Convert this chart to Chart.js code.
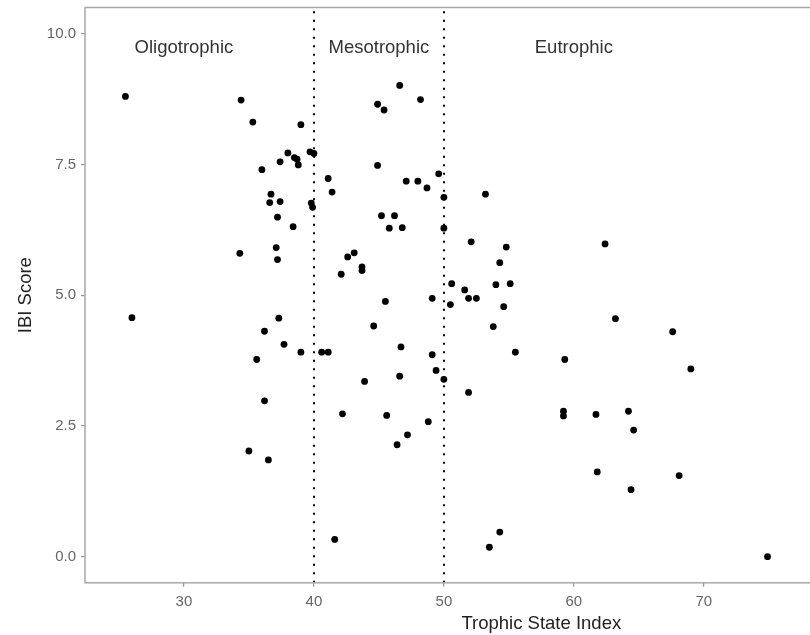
<!DOCTYPE html>
<html>
<head>
<meta charset="utf-8">
<script src="https://cdn.jsdelivr.net/npm/chart.js@4"></script>
<style>
  body { margin: 0; background: #fff; }
  .wrap { width: 810px; height: 635px; overflow: hidden; position: relative; }
  canvas { display: block; }
</style>
</head>
<body>
<div class="wrap">
  <canvas id="myChart" width="1001" height="635"></canvas>
</div>
<script>
// data
const tsi = [25.5, 26.0, 34.4, 35.3, 39.0, 38.0, 37.4, 36.0, 38.5, 38.7, 38.8, 39.7, 40.0,
  36.7, 36.6, 37.4, 39.8, 39.9, 37.2, 38.4, 34.3, 37.1, 37.2, 37.3, 36.2, 37.7, 39.0,
  35.6, 36.2, 35.0, 36.5, 40.6, 41.1, 41.1, 41.4, 44.9, 45.4, 46.6, 48.2, 44.9, 47.1,
  48.0, 48.7, 49.6, 50.0, 45.2, 46.2, 45.8, 46.8, 50.0, 53.2, 42.6, 43.1, 43.7, 43.7,
  42.1, 52.1, 54.8, 54.3, 50.6, 51.6, 54.0, 55.1, 51.9, 52.5, 50.5, 54.6, 45.5, 49.1,
  44.6, 53.8, 46.7, 49.1, 55.5, 43.9, 46.6, 49.4, 50.0, 51.9, 42.2, 45.6, 48.8, 47.2,
  46.4, 41.6, 54.3, 53.5, 63.2, 67.6, 59.3, 69.0, 59.2, 59.2, 61.7, 64.2, 64.6, 61.8,
  68.1, 64.4, 74.9, 62.4];
const ibi = [8.80, 4.57, 8.73, 8.31, 8.26, 7.72, 7.55, 7.40, 7.63, 7.60, 7.49, 7.74, 7.71,
  6.93, 6.77, 6.79, 6.76, 6.68, 6.49, 6.31, 5.80, 5.91, 5.68, 4.56, 4.31, 4.06, 3.91,
  3.77, 2.98, 2.02, 1.85, 3.91, 3.91, 7.23, 6.97, 8.65, 8.54, 9.01, 8.74, 7.48, 7.18,
  7.18, 7.05, 7.32, 6.87, 6.52, 6.52, 6.28, 6.29, 6.28, 6.93, 5.73, 5.81, 5.54, 5.47,
  5.40, 6.02, 5.92, 5.62, 5.22, 5.10, 5.20, 5.22, 4.94, 4.94, 4.82, 4.78, 4.88, 4.94,
  4.41, 4.40, 4.01, 3.86, 3.91, 3.35, 3.45, 3.56, 3.39, 3.14, 2.73, 2.70, 2.58, 2.33,
  2.14, 0.33, 0.47, 0.18, 4.55, 4.30, 3.77, 3.59, 2.78, 2.69, 2.72, 2.78, 2.42, 1.62,
  1.55, 1.28, 0.00, 5.98];

const xTicks = [30, 40, 50, 60, 70];
const yTicks = [0, 2.5, 5, 7.5, 10];
const boundaries = [40, 50];
const zoneNames = ['Oligotrophic', 'Mesotrophic', 'Eutrophic'];
const zoneX = [30, 45, 60];
const zoneY = 9.73;

const FONT = "'Liberation Sans', Arial, sans-serif";

// frame, dotted boundaries and zone labels
const decor = {
  id: 'decor',
  beforeDatasetsDraw(chart) {
    const { ctx, chartArea: a, scales: { x, y } } = chart;
    ctx.save();
    ctx.strokeStyle = '#000';
    ctx.lineWidth = 2;
    ctx.setLineDash([2, 6.5]);
    boundaries.forEach(b => {
      const px = Math.round(x.getPixelForValue(b));
      ctx.beginPath();
      ctx.moveTo(px, a.bottom);
      ctx.lineTo(px, a.top);
      ctx.stroke();
    });
    ctx.setLineDash([]);
    ctx.fillStyle = '#333';
    ctx.font = '18.5px ' + FONT;
    ctx.textAlign = 'center';
    ctx.textBaseline = 'middle';
    zoneNames.forEach((n, i) => {
      ctx.fillText(n, x.getPixelForValue(zoneX[i]), y.getPixelForValue(zoneY));
    });
    ctx.strokeStyle = '#a8a8a8';
    ctx.lineWidth = 1.5;
    ctx.strokeRect(a.left, a.top, a.right - a.left, a.bottom - a.top);
    ctx.restore();
  }
};

const noPad = s => { s.paddingTop = 0; s.paddingBottom = 0; s.paddingLeft = 0; s.paddingRight = 0; };

const ctx = document.getElementById('myChart');

new Chart(ctx, {
  type: 'scatter',
  data: {
    datasets: [{
      data: tsi.map((v, i) => ({ x: v, y: ibi[i] })),
      backgroundColor: '#000',
      borderColor: '#000',
      pointRadius: 3.4,
      pointHoverRadius: 3.4,
      borderWidth: 0
    }]
  },
  options: {
    responsive: false,
    animation: false,
    layout: { padding: { top: 7.5, right: 0, left: 0, bottom: 0 } },
    plugins: {
      legend: { display: false },
      tooltip: { enabled: false }
    },
    scales: {
      x: {
        type: 'linear',
        min: 22.39,
        max: 92.6,
        afterBuildTicks: s => { s.ticks = xTicks.map(v => ({ value: v })); },
        afterFit: s => { s.height = 52.2; noPad(s); },
        border: { display: false },
        grid: { drawOnChartArea: false, drawTicks: true, tickLength: 4, color: '#999', lineWidth: 1.2 },
        ticks: { color: '#666', font: { family: FONT, size: 15 }, padding: 6 },
        title: { display: true, text: 'Trophic State Index', color: '#222',
                 font: { family: FONT, size: 18.5 }, padding: { top: 0, bottom: 0 } }
      },
      y: {
        min: -0.5,
        max: 10.5,
        afterBuildTicks: s => { s.ticks = yTicks.map(v => ({ value: v })); },
        afterFit: s => { s.width = 85; noPad(s); },
        border: { display: false },
        grid: { drawOnChartArea: false, drawTicks: true, tickLength: 4, color: '#999', lineWidth: 1.2 },
        ticks: { color: '#666', font: { family: FONT, size: 15 }, padding: 5,
                 callback: v => v.toFixed(1) },
        title: { display: true, text: 'IBI Score', color: '#222',
                 font: { family: FONT, size: 18.5 }, padding: { top: 15, bottom: 6 } }
      }
    }
  },
  plugins: [decor]
});
</script>
</body>
</html>
